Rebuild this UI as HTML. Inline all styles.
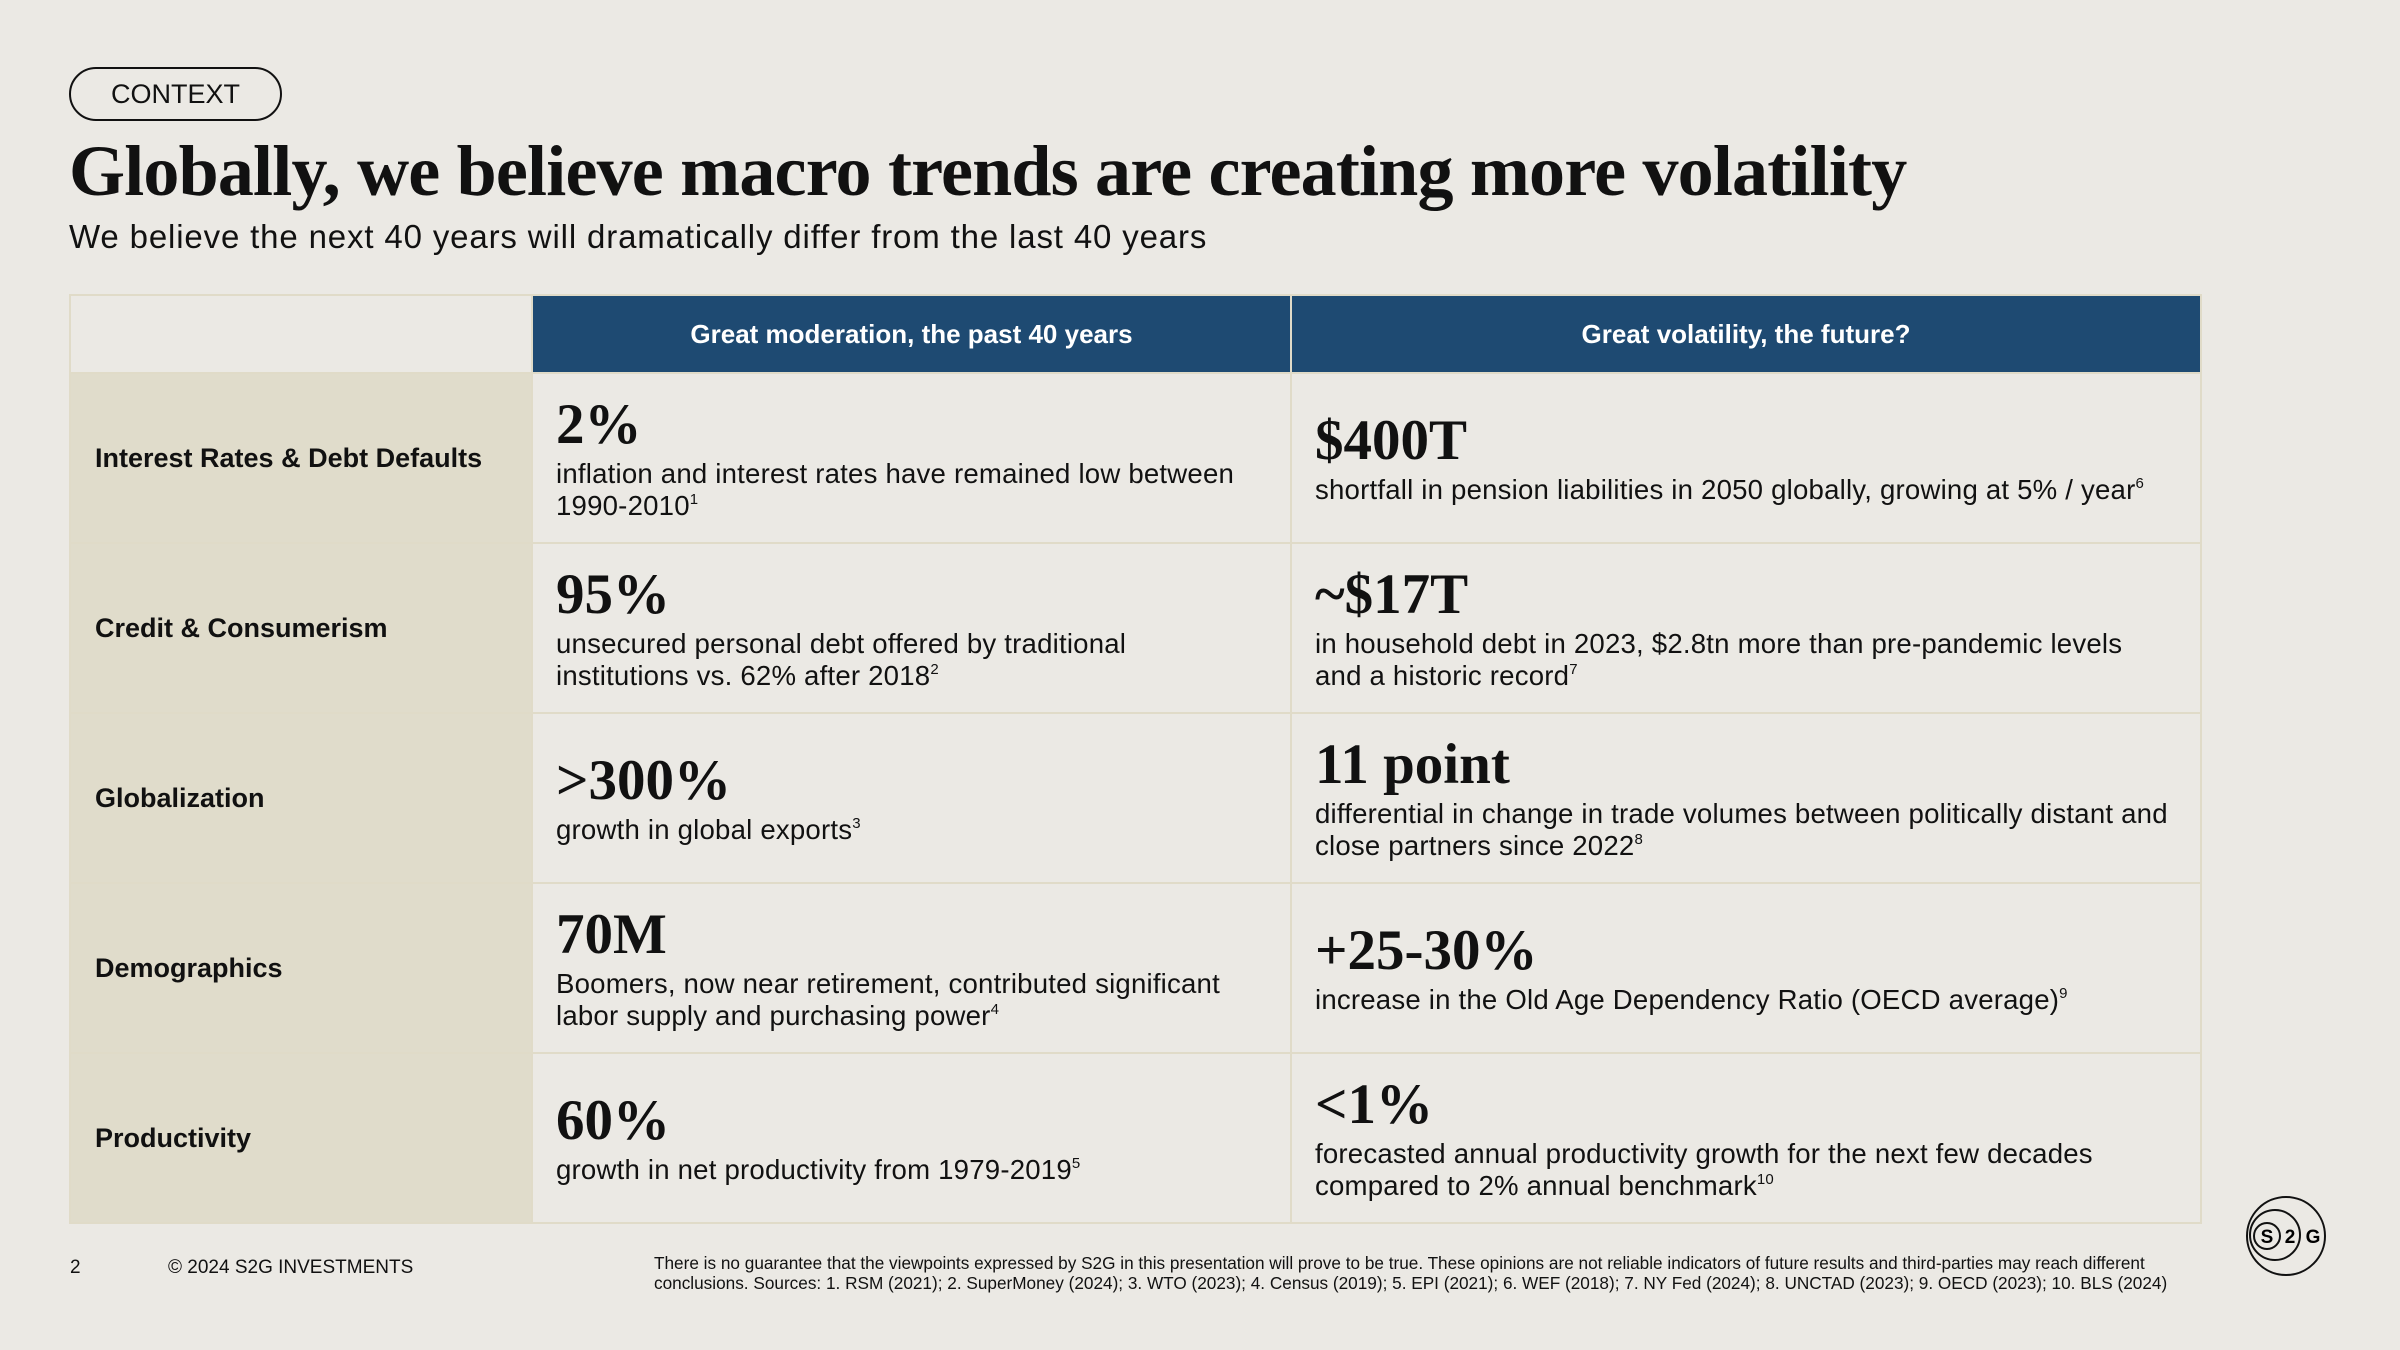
<!DOCTYPE html>
<html><head><meta charset="utf-8"><style>
*{margin:0;padding:0;box-sizing:border-box}
body{width:2400px;height:1350px;background:#ebe9e4;font-family:"Liberation Sans",sans-serif;color:#111;position:relative;overflow:hidden}
.abs{position:absolute}
#pill{left:69px;top:67px;width:213px;height:54px;border:2px solid #111;border-radius:27px;font-size:27px;display:flex;align-items:center;justify-content:center}
#title{left:69px;top:130px;font-family:"Liberation Serif",serif;font-weight:bold;font-size:72px;letter-spacing:-0.8px;white-space:nowrap}
#sub{left:69px;top:218px;font-size:33px;letter-spacing:0.85px;white-space:nowrap}
#tbl{left:69px;top:294px;width:2131px;height:928px;border-collapse:collapse;table-layout:fixed}
#tbl td,#tbl th{border:2px solid #e0dbc8;vertical-align:middle}
#tbl th{background:#1e4a72;color:#fff;font-size:26px;font-weight:bold;height:78px}
#tbl th.empty{background:#ebe9e4}
#tbl td.lab{background:#e0dccb;font-weight:bold;font-size:27px;padding-left:24px}
#tbl td.c{padding:0 20px 0 23px;font-size:27.6px;letter-spacing:0.2px;line-height:32px;height:170px}
#tbl td.c2{padding-right:30px}
#tbl td.c3{padding-right:30px}
.big{font-family:"Liberation Serif",serif;font-weight:bold;font-size:57px;line-height:62px;margin-bottom:2px;letter-spacing:0}
sup{font-size:15px;vertical-align:top;line-height:20px}
#foot{left:654px;top:1253px;font-size:17.2px;line-height:20px;white-space:nowrap}
</style></head><body>
<div id="pill" class="abs">CONTEXT</div>
<div id="title" class="abs">Globally, we believe macro trends are creating more volatility</div>
<div id="sub" class="abs">We believe the next 40 years will dramatically differ from the last 40 years</div>
<table id="tbl" class="abs">
<colgroup><col style="width:462px"><col style="width:759px"><col style="width:910px"></colgroup>
<tr><th class="empty"></th><th>Great moderation, the past 40 years</th><th>Great volatility, the future?</th></tr>
<tr><td class="lab">Interest Rates &amp; Debt Defaults</td>
<td class="c c2"><div class="big">2%</div>inflation and interest rates have remained low between<br>1990-2010<sup>1</sup></td>
<td class="c c3"><div class="big">$400T</div>shortfall in pension liabilities in 2050 globally, growing at 5% / year<sup>6</sup></td></tr>
<tr><td class="lab">Credit &amp; Consumerism</td>
<td class="c c2"><div class="big">95%</div>unsecured personal debt offered by traditional<br>institutions vs. 62% after 2018<sup>2</sup></td>
<td class="c c3"><div class="big">~$17T</div>in household debt in 2023, $2.8tn more than pre-pandemic levels<br>and a historic record<sup>7</sup></td></tr>
<tr><td class="lab">Globalization</td>
<td class="c c2"><div class="big">&gt;300%</div>growth in global exports<sup>3</sup></td>
<td class="c c3"><div class="big">11 point</div>differential in change in trade volumes between politically distant and<br>close partners since 2022<sup>8</sup></td></tr>
<tr><td class="lab">Demographics</td>
<td class="c c2"><div class="big">70M</div>Boomers, now near retirement, contributed significant<br>labor supply and purchasing power<sup>4</sup></td>
<td class="c c3"><div class="big">+25-30%</div>increase in the Old Age Dependency Ratio (OECD average)<sup>9</sup></td></tr>
<tr><td class="lab">Productivity</td>
<td class="c c2"><div class="big">60%</div>growth in net productivity from 1979-2019<sup>5</sup></td>
<td class="c c3"><div class="big">&lt;1%</div>forecasted annual productivity growth for the next few decades<br>compared to 2% annual benchmark<sup>10</sup></td></tr>
</table>
<div class="abs" style="left:70px;top:1257px;font-size:19px">2</div>
<div class="abs" style="left:168px;top:1257px;font-size:19px">© 2024 S2G INVESTMENTS</div>
<div id="foot" class="abs">There is no guarantee that the viewpoints expressed by S2G in this presentation will prove to be true. These opinions are not reliable indicators of future results and third-parties may reach different<br>conclusions. Sources: 1. RSM (2021); 2. SuperMoney (2024); 3. WTO (2023); 4. Census (2019); 5. EPI (2021); 6. WEF (2018); 7. NY Fed (2024); 8. UNCTAD (2023); 9. OECD (2023); 10. BLS (2024)</div>
<svg class="abs" style="left:2240px;top:1192px" width="90" height="90">
<circle cx="46" cy="44" r="39" fill="none" stroke="#111" stroke-width="2"/>
<circle cx="35" cy="43" r="25" fill="none" stroke="#111" stroke-width="2"/>
<circle cx="27" cy="44" r="13" fill="none" stroke="#111" stroke-width="2"/>
<text x="27" y="51" text-anchor="middle" font-family="Liberation Sans" font-weight="bold" font-size="19">S</text>
<text x="50" y="51" text-anchor="middle" font-family="Liberation Sans" font-weight="bold" font-size="19">2</text>
<text x="73" y="51" text-anchor="middle" font-family="Liberation Sans" font-weight="bold" font-size="19">G</text>
</svg>
</body></html>
